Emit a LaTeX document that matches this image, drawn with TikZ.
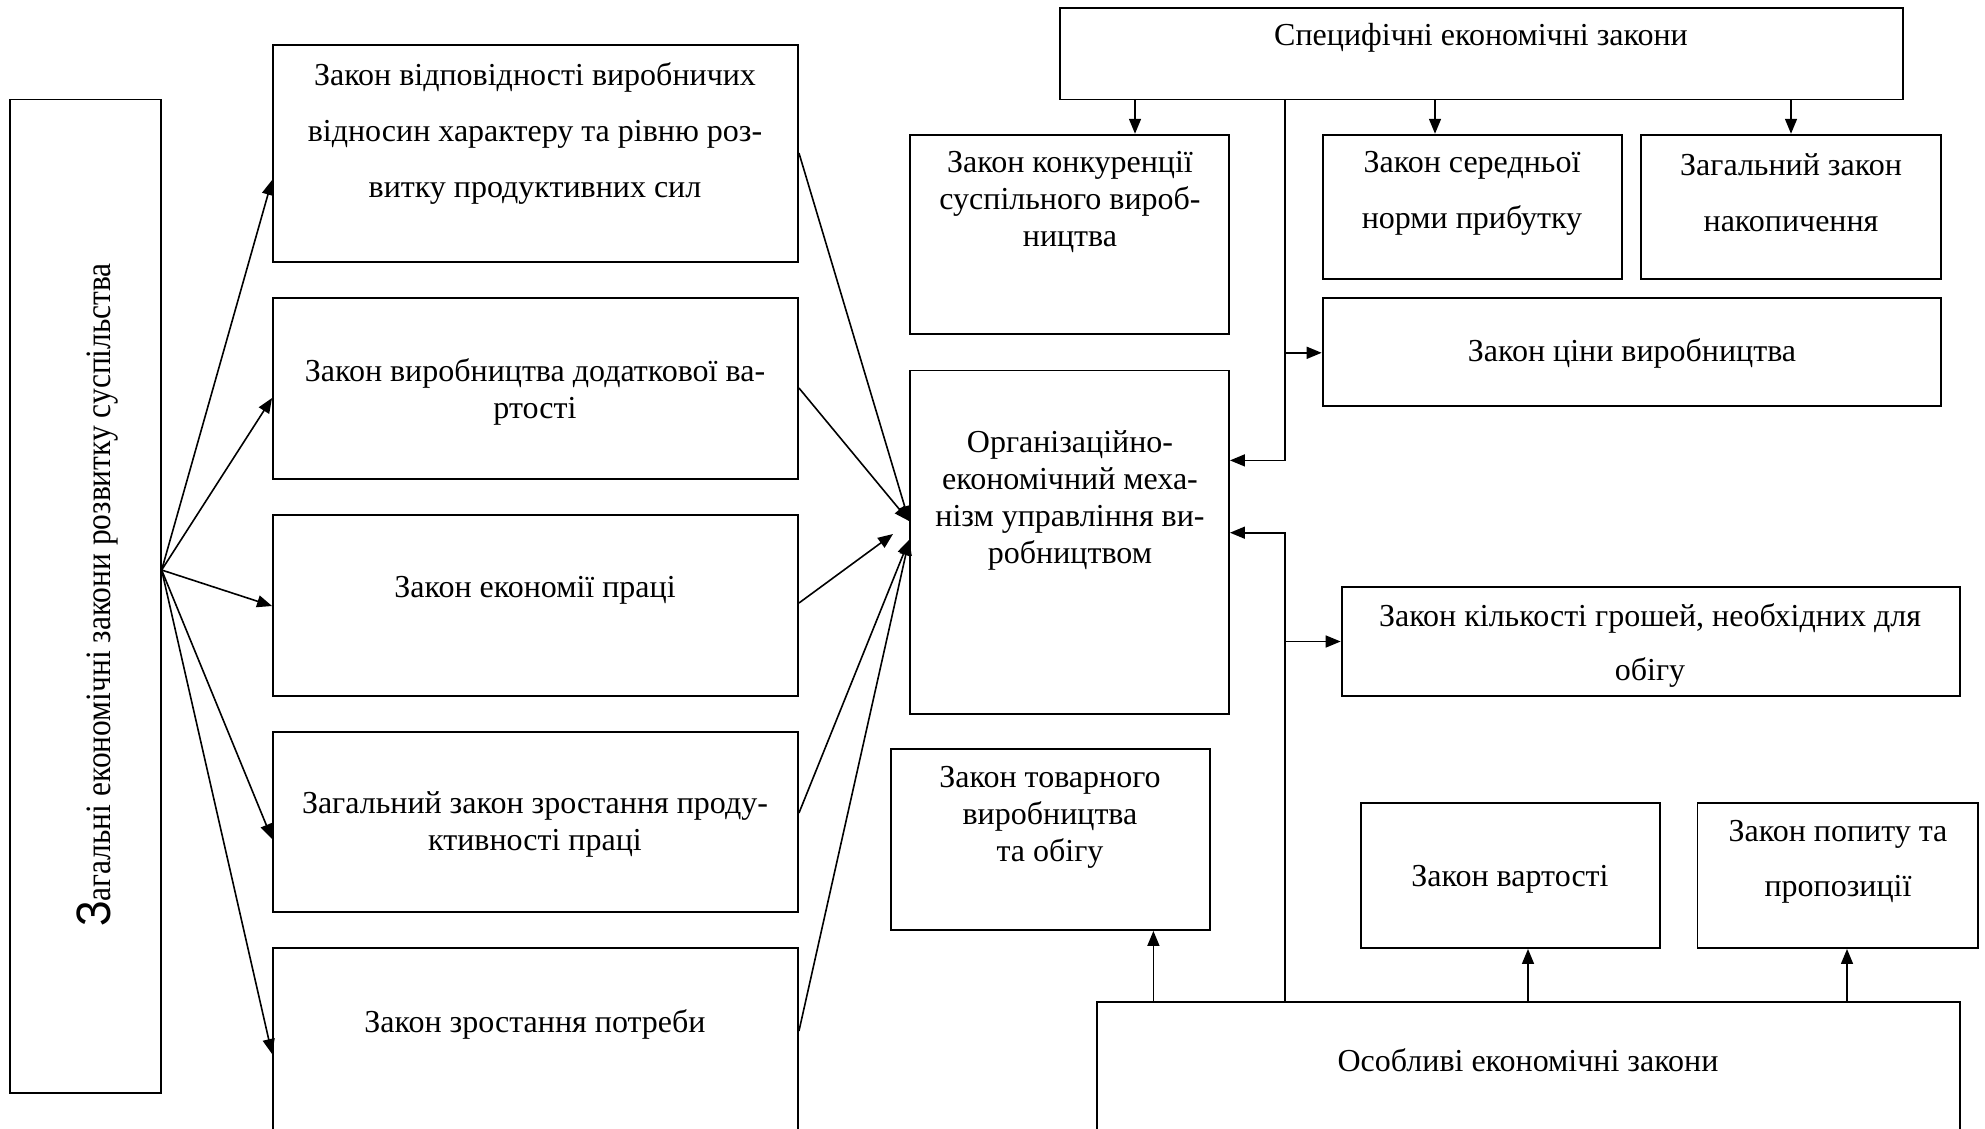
\documentclass[tikz,border=0pt]{standalone}
\usepackage{fontspec}
\setmainfont{Liberation Serif}
\setsansfont{Liberation Sans}
\usetikzlibrary{arrows.meta,fit}
\newcommand\bx[5]{%
  \path (#2,#3) coordinate (#1-nw) (#4,#5) coordinate (#1-se);
  \node[box, fit=(#1-nw)(#1-se)] (#1) {};}
\begin{document}
\begin{tikzpicture}[x=1pt,y=-1pt,
  box/.style={draw, line width=1.9pt, inner sep=0pt},
  txt/.style={align=center, inner sep=0pt, font=\fontsize{32}{37}\selectfont},
  wide/.style={align=center, inner sep=0pt, font=\fontsize{32}{56}\selectfont},
  arr/.style={line width=1.6pt, -{Triangle[length=15pt,width=12pt]}},
  ln/.style={line width=1.6pt}]
\useasboundingbox (0,0) rectangle (1985,1128);
% boxes
\bx{L}{10}{99.5}{160.7}{1093}
\bx{B1}{273}{45}{798}{262}
\bx{B2}{273}{298}{798}{479}
\bx{B3}{273}{515}{798}{696}
\bx{B4}{273}{732}{798}{912}
\bx{B5}{273}{948}{798}{1131}
\bx{S}{1060}{8.4}{1903}{99.5}
\bx{K}{910}{134.7}{1229}{334}
\bx{Sr}{1322.6}{134.7}{1622}{279}
\bx{N}{1641}{134.7}{1941}{279}
\bx{C}{1322.6}{297.7}{1941}{406.4}
\bx{O}{910}{370.5}{1229}{714}
\bx{Kl}{1341.6}{587}{1959.6}{696}
\bx{T}{890.6}{749}{1209.8}{930}
\bx{V}{1360.6}{803}{1660}{948}
\bx{P}{1697.5}{803}{1978}{948}
\bx{Os}{1097}{1002}{1959.6}{1131}
% texts
\node[rotate=90, anchor=base, inner sep=0pt] (Lt) at (110,595)
  {\scalebox{1.015}[1.15]{{\sffamily\fontsize{42}{42}\selectfont З}\fontsize{31}{31}\selectfont агальні економічні закони розвитку суспільства}};
\node[wide] (B1t) at (535,133) {Закон відповідності виробничих\\відносин характеру та рівню роз-\\витку продуктивних сил};
\node[txt] (B2t) at (535,392) {Закон виробництва додаткової ва-\\ртості};
\node[txt] (B3t) at (535,590) {Закон економії праці};
\node[txt] (B4t) at (535,824) {Загальний закон зростання проду-\\ктивності праці};
\node[txt] (B5t) at (535,1024) {Закон зростання потреби};
\node[txt] (St) at (1481,38) {Специфічні економічні закони};
\node[txt] (Kt) at (1070,202) {Закон конкуренції\\суспільного вироб-\\ництва};
\node[wide] (Srt) at (1472,193) {Закон середньої\\норми прибутку};
\node[wide] (Nt) at (1791,193) {Загальний закон\\накопичення};
\node[txt] (Ct) at (1632,353) {Закон ціни виробництва};
\node[txt] (Ot) at (1070,500) {Організаційно-\\економічний меха-\\нізм управління ви-\\робництвом};
\node[align=center, inner sep=0pt, font=\fontsize{32}{54}\selectfont] (Klt) at (1650,645) {Закон кількості грошей, необхідних для\\обігу};
\node[txt] (Tt) at (1050,817) {Закон товарного\\виробництва\\та обігу};
\node[txt] (Vt) at (1510,879) {Закон вартості};
\node[align=center, inner sep=0pt, font=\fontsize{32}{55}\selectfont] (Pt) at (1838,862) {Закон попиту та\\пропозиції};
\node[txt] (Ost) at (1528,1060) {Особливі економічні закони};
% fan from left box
\coordinate (fan) at (L.east |- 0,570);
\draw[arr] (fan) -- (B1.west |- 0,180);
\draw[arr] (fan) -- (B2.west |- 0,398);
\draw[arr] (fan) -- (B3.west |- 0,606);
\draw[arr] (fan) -- (B4.west |- 0,839);
\draw[arr] (fan) -- (B5.west |- 0,1054);
% into organisational box
\coordinate (m3) at (893,534);
\draw[arr] (B1.east |- 0,153) -- (O.west |- 0,521);
\draw[arr] (B2.east |- 0,388) -- (O.west |- 0,521);
\draw[arr] (B3.east |- 0,603) -- (m3);
\draw[arr] (B4.east |- 0,813) -- (O.west |- 0,540);
\draw[arr] (B5.east |- 0,1031) -- (O.west |- 0,540);
% specific laws
\draw[arr] (1135,0 |- S.south) -- (1135,0 |- K.north);
\draw[arr] (1435,0 |- S.south) -- (1435,0 |- Sr.north);
\draw[arr] (N.north |- S.south) -- (N.north);
\coordinate (tr1) at (1285,460.4);
\draw[arr] (1285,0 |- S.south) -- (tr1) -- (O.east |- tr1);
\coordinate (br1) at (1285,352.8);
\draw[arr] (br1) -- (C.west |- br1);
% special laws
\coordinate (tr2) at (1285,532.7);
\draw[arr] (1285,0 |- Os.north) -- (tr2) -- (O.east |- tr2);
\coordinate (br2) at (1285,641.5);
\draw[arr] (br2) -- (Kl.west |- br2);
\draw[arr] (1153.4,0 |- Os.north) -- (1153.4,0 |- T.south);
\draw[arr] (1528,0 |- Os.north) -- (1528,0 |- V.south);
\draw[arr] (1847,0 |- Os.north) -- (1847,0 |- P.south);
\end{tikzpicture}
\end{document}
